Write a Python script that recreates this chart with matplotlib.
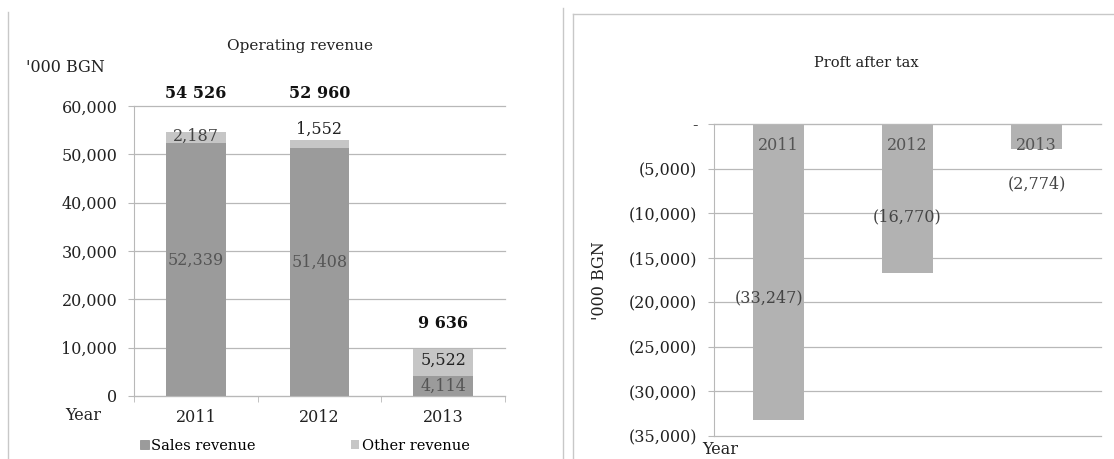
import matplotlib
matplotlib.use("Agg")
import matplotlib.pyplot as plt
from matplotlib.lines import Line2D
from matplotlib.patches import Patch
from matplotlib.ticker import FuncFormatter

# the scan is stretched sideways, a wide serif fits the text footprint better
plt.rcParams["font.family"] = ["DejaVu Serif"]

years = ["2011", "2012", "2013"]
sales_revenue = [52339, 51408, 4114]
other_revenue = [2187, 1552, 5522]
total_labels = ["54 526", "52 960", "9 636"]
profit_after_tax = [-33247, -16770, -2774]

SALES_C = "#9b9b9b"
OTHER_C = "#c6c6c6"
PROFIT_C = "#b2b2b2"
GRID_C = "#b8b8b8"
TXT = "#222222"
FS = 11.5

W, H = 1114, 459
fig = plt.figure(figsize=(W / 100, H / 100), dpi=100)


def px_axes(x0, y0, x1, y1):
    # pixel box (top-left origin) -> figure axes
    return fig.add_axes([x0 / W, 1 - y1 / H, (x1 - x0) / W, (y1 - y0) / H])


# --- Left: operating revenue (stacked) ---
ax1 = px_axes(134, 106, 505, 396)
x = range(len(years))
ax1.bar(x, sales_revenue, width=0.48, color=SALES_C, zorder=2)
ax1.bar(x, other_revenue, width=0.48, bottom=sales_revenue, color=OTHER_C, zorder=2)
ax1.set_xlim(-0.5, 2.5)
ax1.set_ylim(0, 60000)
ax1.set_yticks(range(0, 60001, 10000))
ax1.yaxis.set_major_formatter(FuncFormatter(lambda v, p: f"{int(v):,}"))
ax1.set_xticks(list(x))
ax1.set_xticklabels(years)
ax1.set_xticks([-0.5, 0.5, 1.5, 2.5], minor=True)
ax1.tick_params(axis="x", which="major", length=0, pad=9, labelsize=FS, colors=TXT)
ax1.tick_params(axis="x", which="minor", length=4, color=GRID_C)
ax1.tick_params(axis="y", length=4, color=GRID_C, labelsize=FS, labelcolor=TXT, pad=8)
ax1.grid(axis="y", color=GRID_C, lw=0.9, zorder=0)
for s in ["top", "right"]:
    ax1.spines[s].set_visible(False)
for s in ["left", "bottom"]:
    ax1.spines[s].set_color(GRID_C)

for i in x:
    s, o = sales_revenue[i], other_revenue[i]
    if i < 2:
        ax1.text(i, s / 2 + 2000, f"{s:,}", ha="center", va="center", fontsize=FS, color="#555555", zorder=3)
    else:
        ax1.text(i, s / 2 - 100, f"{s:,}", ha="center", va="center", fontsize=FS, color="#555555", zorder=3)
    if i == 0:
        ax1.text(i, s + o / 2 + 200, f"{o:,}", ha="center", va="center", fontsize=FS, color="#444444", zorder=3)
    elif i == 1:
        ax1.text(i, s + o + 2300, f"{o:,}", ha="center", va="center", fontsize=FS, color=TXT, zorder=3)
    else:
        ax1.text(i, s + o / 2 + 500, f"{o:,}", ha="center", va="center", fontsize=FS, color=TXT, zorder=3)
    ytot = 62500 if i < 2 else 15000
    ax1.text(i, ytot, total_labels[i], ha="center", va="center", fontsize=FS, fontweight="bold",
             color="#111111", clip_on=False)

fig.text(300 / W, 1 - 46 / H, "Operating revenue", ha="center", va="center", fontsize=11, color=TXT)
fig.text(26 / W, 1 - 67 / H, "'000 BGN", ha="left", va="center", fontsize=11.5, color=TXT)
fig.text(83 / W, 1 - 416 / H, "Year", ha="center", va="center", fontsize=FS, color=TXT)

handles = [Patch(facecolor=SALES_C, edgecolor="#888888", lw=0.5), Patch(facecolor=OTHER_C, edgecolor="none")]
fig.legend(handles, ["Sales revenue", "Other revenue"], loc="center", bbox_to_anchor=(305 / W, 1 - 446 / H),
           ncol=2, frameon=False, fontsize=10.5, handlelength=0.6, handleheight=0.6,
           handletextpad=0.2, columnspacing=6.5)

# --- Right: profit after tax ---
ax2 = px_axes(714, 124, 1101, 436)
ax2.bar(x, profit_after_tax, width=0.4, color=PROFIT_C, zorder=2)
ax2.set_xlim(-0.5, 2.5)
ax2.set_ylim(-35000, 0)
ax2.set_yticks(range(-35000, 1, 5000))


def paren_fmt(v, p):
    if v == 0:
        return "-"
    return f"({abs(int(v)):,})"


ax2.yaxis.set_major_formatter(FuncFormatter(paren_fmt))
ax2.set_xticks([])
ax2.tick_params(axis="y", length=4, color=GRID_C, labelsize=FS, labelcolor=TXT, pad=8)
ax2.grid(axis="y", color=GRID_C, lw=0.9, zorder=0)
for s in ["right", "bottom"]:
    ax2.spines[s].set_visible(False)
ax2.spines["left"].set_color(GRID_C)
ax2.spines["top"].set_color(GRID_C)

# keep the edge gridlines whole
for ax in (ax1, ax2):
    for gl in ax.get_ygridlines():
        gl.set_clip_on(False)

label_y = [-19500, -10400, -6700]
label_dx = [-0.07, 0.0, 0.0]
for i in x:
    ax2.text(i, -2400, years[i], ha="center", va="center", fontsize=FS, color="#555555", zorder=3)
    ax2.text(i + label_dx[i], label_y[i], f"({abs(profit_after_tax[i]):,})", ha="center", va="center",
             fontsize=FS, color="#444444", zorder=3)

fig.text(599 / W, 1 - 281 / H, "'000 BGN", rotation=90, ha="center", va="center", fontsize=FS, color=TXT)
fig.text(720 / W, 1 - 450 / H, "Year", ha="center", va="center", fontsize=FS, color=TXT)
fig.text(866 / W, 1 - 63 / H, "Proft after tax", ha="center", va="center", fontsize=10.5, color=TXT)

# panel frames from the scanned page
frame_c = "#c8c8c8"
fig.add_artist(Line2D([8 / W, 8 / W], [0, 1 - 12 / H], color=frame_c, lw=1))
fig.add_artist(Line2D([563 / W, 563 / W], [0, 1 - 8 / H], color=frame_c, lw=1))
fig.add_artist(Line2D([573 / W, 573 / W], [0, 1 - 14 / H], color=frame_c, lw=1))
fig.add_artist(Line2D([573 / W, 1], [1 - 14 / H, 1 - 14 / H], color=frame_c, lw=1))

fig.savefig("out.png", dpi=100, facecolor="white")
